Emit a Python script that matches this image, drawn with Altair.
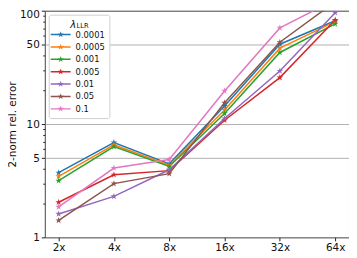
import math
import altair as alt
import pandas as pd

cats = ["2x", "4x", "8x", "16x", "32x", "64x"]
lambdas = ["0.0001", "0.0005", "0.001", "0.005", "0.01", "0.05", "0.1"]
colors = ["#1f77b4", "#ff7f0e", "#2ca02c", "#d62728", "#9467bd", "#8c564b", "#e377c2"]

s_0001 = [3.72, 6.86, 4.45, 14.4, 50.6, 81.5]
s_0005 = [3.45, 6.54, 4.33, 13.3, 46.7, 80.0]
s_001 = [3.16, 6.32, 4.22, 12.4, 42.8, 76.4]
s_005 = [2.04, 3.57, 3.88, 10.8, 25.7, 82.8]
s_01 = [1.61, 2.30, 3.95, 11.2, 29.4, 96.0]
s_05 = [1.41, 2.98, 3.65, 15.4, 52.7, 120.0]
s_1 = [1.86, 4.09, 4.87, 19.6, 70.5, 125.0]
series = [s_0001, s_0005, s_001, s_005, s_01, s_05, s_1]

y_ticks = [1, 2, 3, 4, 5, 6, 7, 8, 9, 10, 20, 30, 40, 50, 60, 70, 80, 90, 100]

rows = []
for i, (lam, vals) in enumerate(zip(lambdas, series)):
    for j, (c, v) in enumerate(zip(cats, vals)):
        rows.append({"lam": lam, "cat": c, "err": v, "order": i})
df = pd.DataFrame(rows)


def star(cx, cy, R, ratio=0.382):
    pts = []
    for k in range(10):
        ang = -math.pi / 2 + k * math.pi / 5
        rr = R if k % 2 == 0 else R * ratio
        pts.append((cx + rr * math.cos(ang), cy + rr * math.sin(ang)))
    return "M" + "L".join(f"{x:.3f},{y:.3f}" for x, y in pts) + "Z"


star_path = star(0, 0, 1)
sh = 0.6
legend_path = (f"M{sh-2:.3f},-0.14L{sh+2:.3f},-0.14L{sh+2:.3f},0.14L{sh-2:.3f},0.14Z"
               + star(sh, 0, 0.66))

FONT = "DejaVu Sans"
major_test = "indexof([1,5,10,50,100], datum.value) >= 0"
grid_test = "indexof([5,10,50], datum.value) >= 0"

x_enc = alt.X("cat:N", sort=cats,
              scale=alt.Scale(type="point", padding=0.25),
              axis=alt.Axis(title="LLR", labelAngle=0, domain=False, grid=False,
                            tickSize=3.5, tickColor="#222", labelPadding=2,
                            labelFont=FONT, labelFontSize=10.5, labelColor="#111",
                            titleFont=FONT, titleFontSize=6.8, titleFontWeight="normal",
                            titleColor="#111", titleAlign="left", titleBaseline="alphabetic",
                            titleAnchor="start", titleAngle=0,
                            titleX=31.5, titleY=16.5 - 228, zindex=2))
y_enc = alt.Y("err:Q",
              scale=alt.Scale(type="log", domain=[1, 100], nice=False),
              axis=alt.Axis(title="2-norm rel. error", values=y_ticks,
                            labelExpr=f"{major_test} ? '' + datum.value : ''",
                            labelOffset={"condition": {"test": "datum.value == 100", "value": 3.5}, "value": 0},
                            tickSize={"condition": {"test": major_test, "value": 3.5}, "value": 2},
                            gridOpacity={"condition": {"test": grid_test, "value": 1}, "value": 0},
                            grid=True, gridColor="#b0b0b0", gridWidth=1,
                            domain=False, tickColor="#222", labelPadding=2,
                            labelFont=FONT, labelFontSize=10.5, labelColor="#111",
                            titleFont=FONT, titleFontSize=10.5, titleFontWeight="normal",
                            titleColor="#111", titleX=-32, titleY=114,
                            titleBaseline="middle", titleAngle=270))
color_enc = alt.Color("lam:N", sort=lambdas,
                      scale=alt.Scale(domain=lambdas, range=colors),
                      legend=alt.Legend(
                          title="\u00a0", orient="none", legendX=4, legendY=4,
                          titleAnchor="middle", titleFont=FONT, titleFontSize=10,
                          titleFontWeight="normal", titleColor="#111", titlePadding=1,
                          labelFont=FONT, labelFontSize=8.4, labelColor="#111",
                          labelOffset=13, symbolType=legend_path, symbolSize=100,
                          symbolStrokeWidth=0, rowPadding=2.45,
                          padding=4, fillColor="white", strokeColor="#d0d0d0",
                          cornerRadius=2))

lines = alt.Chart(df).mark_line(strokeWidth=1.5, clip=True).encode(
    x=x_enc, y=y_enc, color=color_enc, order="order:Q", detail="lam:N")
points = alt.Chart(df).mark_point(shape=star_path, filled=True, size=49, opacity=1,
                                  clip=True).encode(
    x=x_enc, y=y_enc, color=color_enc, order="order:Q")

chart = alt.layer(lines, points).properties(
    width=306, height=228,
    autosize=alt.AutoSizeParams(type="none"),
    padding={"left": 37, "top": 2, "right": 0, "bottom": 14},
    title=alt.TitleParams(text="λ", anchor="start", frame="group", orient="top",
                          font=FONT, fontSize=10, fontStyle="italic",
                          fontWeight="normal", color="#111", align="left",
                          baseline="alphabetic", offset=0, dx=25.5, dy=28.5),
).configure_view(stroke="#444", strokeWidth=1)

chart.save("out.html", embed_options={"renderer": "svg", "actions": False})
